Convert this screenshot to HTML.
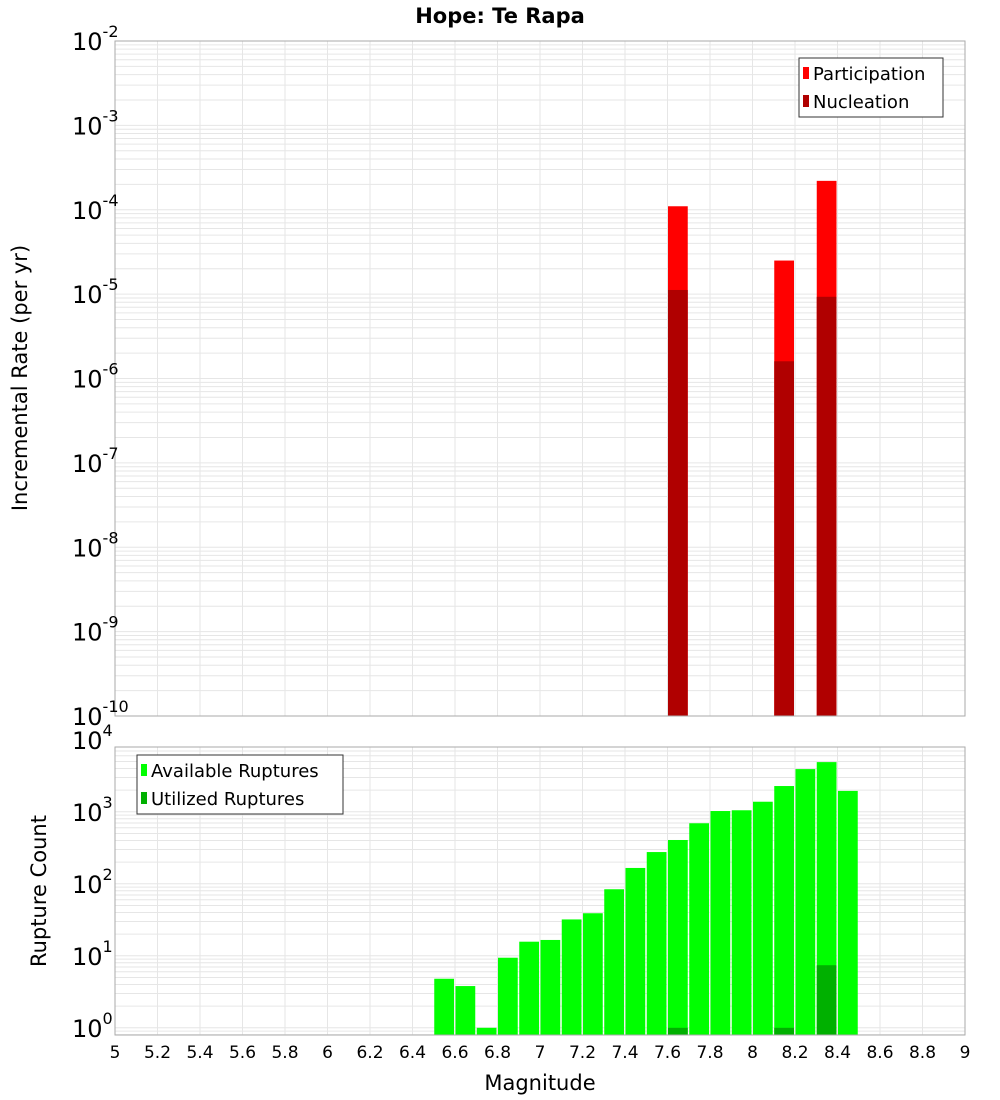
<!DOCTYPE html>
<html><head><meta charset="utf-8"><style>
body{margin:0;background:#fff;}
svg{display:block;font-family:"DejaVu Sans","Liberation Sans",sans-serif;}
</style></head><body>
<svg id="chart" width="1000" height="1100" viewBox="0 0 1000 1100" xmlns="http://www.w3.org/2000/svg">
<text x="500" y="23" text-anchor="middle" font-size="21" font-weight="bold">Hope: Te Rapa</text>
<g id="topPanel"></g>
<g id="botPanel"></g>
<text transform="translate(27,378) rotate(-90)" text-anchor="middle" font-size="21">Incremental Rate (per yr)</text>
<text transform="translate(46,891) rotate(-90)" text-anchor="middle" font-size="21">Rupture Count</text>
<text x="540" y="1090" text-anchor="middle" font-size="21">Magnitude</text>
</svg>
<script>
const magBins=[6.55,6.65,6.75,6.85,6.95,7.05,7.15,7.25,7.35,7.45,7.55,7.65,7.75,7.85,7.95,8.05,8.15,8.25,8.35,8.45];
const availableCounts=[4.8,3.8,1,9.4,15.7,16.6,32,39,84,166,276,406,693,1025,1050,1380,2280,3920,4900,1950];
const utilizedMags=[7.65,8.15,8.35];
const utilizedCounts=[1,1,7.4];
const rateMags=[7.65,8.15,8.35];
const participationRates=[1.1e-4,2.5e-5,2.2e-4];
const nucleationRates=[1.12e-5,1.6e-6,9.3e-6];
const xTicks=[5,5.2,5.4,5.6,5.8,6,6.2,6.4,6.6,6.8,7,7.2,7.4,7.6,7.8,8,8.2,8.4,8.6,8.8,9];
const topDecades=[-10,-9,-8,-7,-6,-5,-4,-3,-2];
const botDecades=[0,1,2,3,4];

const NS="http://www.w3.org/2000/svg";
const X0=115,X1=965;
const xs=m=>X0+(m-5)/4*(X1-X0);
const topY=v=>41+(-2-Math.log10(v))/8*(716-41);
const botY=v=>747+(3.9-Math.log10(v))/4*(1035-747);
function mk(parent,tag,attrs){const e=document.createElementNS(NS,tag);for(const k in attrs)e.setAttribute(k,attrs[k]);parent.appendChild(e);return e;}

function panel(g,yTop,yBot,decMin,decMax,yf,name){
  mk(g,'rect',{x:X0,y:yTop,width:X1-X0,height:yBot-yTop,fill:'#fff'});
  for(let d=decMin-1;d<=decMax;d++){for(let k=1;k<10;k++){const v=k*Math.pow(10,d);const y=yf(v);if(y<yTop-0.1||y>yBot+0.1)continue;
    const l=mk(g,'line',{x1:X0,x2:X1,y1:y,y2:y,stroke:'#e6e6e6','stroke-width':1});
    
    }}
  xTicks.forEach(t=>{const x=xs(t);
    const l=mk(g,'line',{x1:x,x2:x,y1:yTop,y2:yBot,stroke:'#e6e6e6','stroke-width':1});
    
    });
}
function yLabels(g,decs,yf,name){
  decs.forEach(d=>{const y=yf(Math.pow(10,d));
    const t=mk(g,'text',{x:72,y:y+9,'font-size':24});
    
    
    t.textContent='10';
    const s=mk(t,'tspan',{dy:-13,'font-size':16});s.textContent=String(d);
  });
}
function bar(g,m,v,yf,yb,fill,name){
  const x=xs(m-0.05)+0.5,w=xs(m+0.05)-xs(m-0.05)-1.5,y=yf(v);
  const r=mk(g,'rect',{x:x,y:y,width:w,height:yb-y,fill:fill});
  
  
}
function border(g,yTop,yBot){mk(g,'rect',{x:X0,y:yTop,width:X1-X0,height:yBot-yTop,fill:'none',stroke:'#aaa','stroke-width':1});}
function legend(g,x,y,w,h,items,name){
  const b=mk(g,'rect',{x:x,y:y,width:w,height:h,fill:'#fff',stroke:'#333','stroke-width':1});
  
  
  items.forEach((it,i)=>{const cy=y+15+i*28;
    mk(g,'rect',{x:x+4,y:cy-6,width:6,height:12,fill:it[1]});
    const t=mk(g,'text',{x:x+14,y:cy+7,'font-size':18});
    
    
    t.textContent=it[0];});
}

const topG=document.getElementById('topPanel');
panel(topG,41,716,-10,-2,topY,'top');
rateMags.forEach((m,i)=>{bar(topG,m,participationRates[i],topY,716,'#ff0000','participation-bar');});
rateMags.forEach((m,i)=>{bar(topG,m,nucleationRates[i],topY,716,'#b00000','nucleation-bar');});
border(topG,41,716);
yLabels(topG,topDecades,topY,'top-y');
legend(topG,799,58,144,59,[['Participation','#ff0000'],['Nucleation','#b00000']],'rate-legend');

const botG=document.getElementById('botPanel');
panel(botG,747,1035,0,4,botY,'bottom');
magBins.forEach((m,i)=>{bar(botG,m,availableCounts[i],botY,1035,'#00ff00','available-bar');});
utilizedMags.forEach((m,i)=>{bar(botG,m,utilizedCounts[i],botY,1035,'#00b000','utilized-bar');});
border(botG,747,1035);
yLabels(botG,botDecades,botY,'bottom-y');
legend(botG,137,755,206,59,[['Available Ruptures','#00ff00'],['Utilized Ruptures','#00b000']],'count-legend');
xTicks.forEach(t=>{const e=mk(botG,'text',{x:xs(t),y:1058,'text-anchor':'middle','font-size':17});
  
  
  e.textContent=String(t);});
</script>
</body></html>
